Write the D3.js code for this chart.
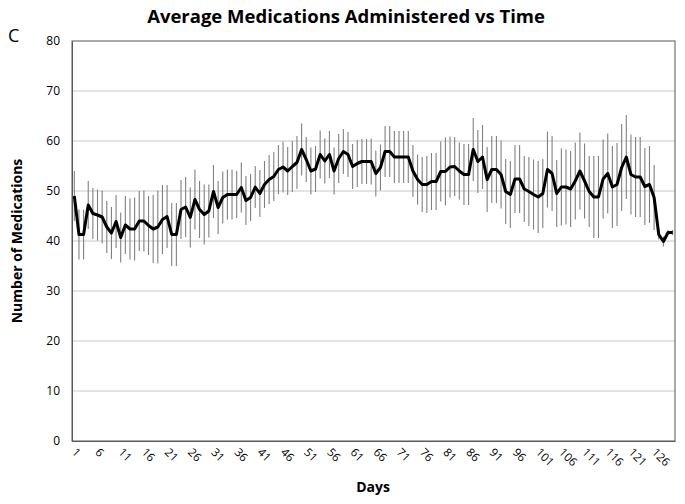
<!DOCTYPE html>
<html>
<head>
<meta charset="utf-8">
<script src="https://cdn.jsdelivr.net/npm/d3@7/dist/d3.min.js"></script>
<style>
  html, body { margin: 0; padding: 0; background: #fff; }
  svg { display: block; }
</style>
</head>
<body>
<svg id="chart" width="685" height="504"></svg>
<script>
// ---- Data ----
const days = d3.range(1, 131);
const tickDays = [1, 6, 11, 16, 21, 26, 31, 36, 41, 46, 51, 56, 61, 66, 71, 76, 81, 86, 91, 96, 101, 106, 111, 116, 121, 126];
const yTicks = [0, 10, 20, 30, 40, 50, 60, 70, 80];

const meanValues = [
  49.0, 41.3, 41.3, 47.2, 45.5, 45.2, 44.8, 42.8, 41.6, 43.9,
  40.7, 43.2, 42.4, 42.4, 44.0, 44.0, 43.1, 42.4, 42.8, 44.3,
  44.9, 41.3, 41.3, 46.3, 46.8, 44.7, 48.3, 46.3, 45.3, 46.0,
  49.9, 46.7, 48.7, 49.3, 49.3, 49.3, 50.7, 48.1, 48.7, 50.8,
  49.5, 51.3, 52.3, 52.9, 54.3, 54.8, 54.0, 54.9, 55.7, 58.3,
  56.3, 54.0, 54.4, 57.3, 56.0, 57.3, 54.0, 56.5, 57.9, 57.3,
  54.9, 55.5, 55.9, 55.9, 55.9, 53.5, 54.7, 57.9, 57.9, 56.8,
  56.8, 56.8, 56.8, 54.0, 52.3, 51.3, 51.3, 51.9, 51.9, 53.9,
  53.9, 54.8, 54.9, 54.0, 53.3, 53.3, 58.3, 55.9, 56.8, 52.3,
  54.3, 54.3, 53.3, 49.9, 49.3, 52.4, 52.4, 50.4, 49.9, 49.3,
  48.8, 49.5, 54.3, 53.5, 49.5, 50.8, 50.8, 50.4, 52.0, 54.0,
  52.0, 49.9, 48.8, 48.8, 52.4, 53.5, 50.8, 51.3, 54.7, 56.8,
  53.3, 52.8, 52.8, 50.9, 51.3, 48.7, 41.3, 39.9, 41.7, 41.7
];
const errValues = [
  5.0, 5.0, 5.0, 4.8, 5.1, 5.1, 5.3, 5.2, 5.2, 5.3,
  5.0, 5.8, 6.1, 6.3, 6.0, 6.1, 5.9, 6.8, 7.3, 6.9,
  6.3, 6.3, 6.3, 5.9, 6.0, 6.0, 6.0, 5.7, 6.0, 5.3,
  5.3, 5.3, 5.2, 5.0, 5.0, 4.7, 5.0, 4.9, 4.7, 4.2,
  4.7, 4.7, 4.9, 4.9, 4.9, 5.1, 4.8, 5.1, 5.3, 5.2,
  4.5, 4.7, 4.6, 4.8, 4.5, 4.7, 4.7, 4.9, 4.5, 4.5,
  4.5, 4.7, 4.5, 4.5, 4.6, 4.6, 4.6, 5.1, 5.1, 5.2,
  5.2, 5.2, 5.2, 5.2, 5.0, 5.5, 5.7, 5.7, 5.7, 6.0,
  6.8, 6.1, 5.9, 5.7, 6.1, 6.1, 6.3, 6.3, 6.4, 6.5,
  6.7, 6.7, 6.8, 6.5, 6.7, 6.8, 6.8, 6.6, 6.9, 7.0,
  7.2, 6.9, 7.6, 7.5, 6.7, 7.7, 7.5, 7.6, 7.7, 7.7,
  7.5, 7.1, 8.2, 8.2, 7.9, 8.0, 8.2, 8.3, 8.7, 8.4,
  8.0, 8.0, 8.0, 7.7, 7.7, 6.5, 1.0, 1.0, 0.5, 0.5
];

// ---- Layout ----
const svg = d3.select("#chart");
const plotLeft = 72, plotRight = 675, plotTop = 41, plotBottom = 441;

const x = d3.scaleBand().domain(days).range([plotLeft, plotRight]).paddingInner(0).paddingOuter(0);
const y = d3.scaleLinear().domain([0, 80]).range([plotBottom, plotTop]);
const cx = d => x(d) + x.bandwidth() / 2;

const font = "'Open Sans', 'Noto Sans', sans-serif";

// gridlines
svg.append("g").selectAll("line").data(yTicks.filter(t => t > 0 && t < 80)).join("line")
  .attr("x1", plotLeft).attr("x2", plotRight)
  .attr("y1", d => y(d)).attr("y2", d => y(d))
  .attr("stroke", "#c8c8c8").attr("stroke-width", 1);

// plot border
svg.append("rect")
  .attr("x", plotLeft).attr("y", plotTop).attr("width", plotRight - plotLeft).attr("height", plotBottom - plotTop)
  .attr("fill", "none").attr("stroke", "#595959").attr("stroke-width", 1);

// y axis
const yAxis = d3.axisLeft(y).tickValues(yTicks).tickSize(0).tickPadding(12);
const gy = svg.append("g").attr("transform", `translate(${plotLeft},0)`).call(yAxis);
gy.select(".domain").attr("stroke", "#595959");
gy.selectAll("text").attr("font-family", font).attr("font-size", 12).attr("fill", "#000");

// x axis
const xAxis = d3.axisBottom(x).tickValues(tickDays).tickSize(0).tickPadding(0);
const gx = svg.append("g").attr("transform", `translate(0,${plotBottom})`).call(xAxis);
gx.select(".domain").attr("stroke", "#595959");
gx.selectAll("text")
  .attr("font-family", font).attr("font-size", 11.5).attr("fill", "#000")
  .attr("text-anchor", "start")
  .attr("dy", null).attr("y", 0)
  .attr("transform", "translate(-3,12) rotate(45)");

// error bars
svg.append("g").selectAll("line").data(days).join("line")
  .attr("x1", (d) => cx(d)).attr("x2", (d) => cx(d))
  .attr("y1", (d, i) => y(meanValues[i] + errValues[i]))
  .attr("y2", (d, i) => y(meanValues[i] - errValues[i]))
  .attr("stroke", "#808080").attr("stroke-width", 1.1);

// mean line
const line = d3.line().x((d) => cx(d)).y((d, i) => y(meanValues[i]));
svg.append("path").datum(days)
  .attr("d", line)
  .attr("fill", "none").attr("stroke", "#000").attr("stroke-width", 3)
  .attr("stroke-linejoin", "round");

// titles
svg.append("text").attr("x", 346).attr("y", 23).attr("text-anchor", "middle")
  .attr("font-family", font).attr("font-weight", "bold").attr("font-size", 18.5)
  .text("Average Medications Administered vs Time");

svg.append("text").attr("x", 8).attr("y", 42)
  .attr("font-family", font).attr("font-size", 18)
  .text("C");

svg.append("text").attr("transform", "translate(22,241) rotate(-90)").attr("text-anchor", "middle")
  .attr("font-family", font).attr("font-weight", "bold").attr("font-size", 14)
  .text("Number of Medications");

svg.append("text").attr("x", 373).attr("y", 492).attr("text-anchor", "middle")
  .attr("font-family", font).attr("font-weight", "bold").attr("font-size", 14)
  .text("Days");
</script>
</body>
</html>
